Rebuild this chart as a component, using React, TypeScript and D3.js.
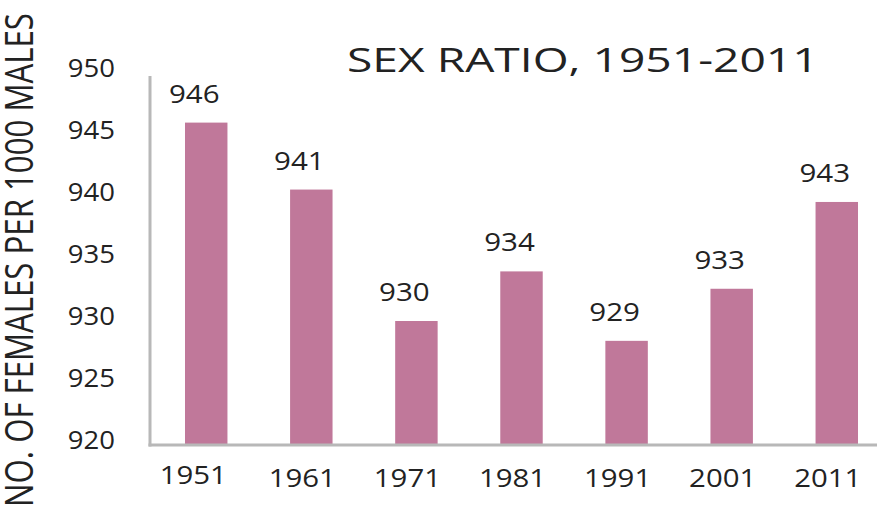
import React from 'react';
import { scaleBand, scaleLinear } from 'd3';

// census years, bar heights as drawn, and the numbers printed above the bars
const years = ['1951', '1961', '1971', '1981', '1991', '2001', '2011'];
const ratios = [946, 940.6, 930, 934, 928.4, 932.6, 939.6];
const valueLabels = ['946', '941', '930', '934', '929', '933', '943'];
const yTicks = [920, 925, 930, 935, 940, 945, 950];

const App = () => {
    const width = 877;
    const height = 519;
    const margin = { top: 73, left: 150, bottom: 445, right: 893 };
    const font = '"Open Sans", "DejaVu Sans", sans-serif';
    const textColor = '#222222';
    const axisColor = '#b8b8b8';

    const x = scaleBand<string>().domain(years).range([margin.left, margin.right]).paddingInner(0.596).paddingOuter(0.333);
    const y = scaleLinear().domain([920, 950]).range([margin.bottom, margin.top]);

    const bars = years.map((yr, i) => (
        <rect key={yr} x={x(yr)} y={y(ratios[i])} width={x.bandwidth()} height={y(920) - y(ratios[i])} fill="#c0789a" />
    ));

    const labels = years.map((yr, i) => {
        let cx = (x(yr) as number) + x.bandwidth() / 2 - 12;
        return (
            <text key={yr} transform={`translate(${cx},${y(ratios[i]) - 20}) scale(1.18,1)`} textAnchor="middle" fontSize={25} fill={textColor}>{valueLabels[i]}</text>
        );
    });

    const xLabels = years.map((yr, i) => {
        let cx = (x(yr) as number) + x.bandwidth() / 2 - (i == 0 ? 13 : 9);
        return (
            <text key={yr} transform={`translate(${cx},${i == 0 ? 484 : 487}) scale(1.13,1)`} textAnchor="middle" fontSize={26} fill={textColor}>{yr}</text>
        );
    });

    const yLabels = yTicks.map(t => (
        <text key={t} transform={`translate(115,${y(t) + 3.5}) scale(1.1,1)`} textAnchor="end" fontSize={25} fill={textColor}>{t}</text>
    ));

    return (
        <div style={{ position: 'absolute', left: 0, top: 0, width: width, height: height, background: '#ffffff' }}>
            <svg width={width} height={height} style={{ display: 'block', fontFamily: font }}>
                <rect x={0} y={0} width={width} height={height} fill="#ffffff" />
                <g>{bars}</g>
                <line x1={margin.left} x2={margin.left} y1={76} y2={y(920) + 1.5} stroke={axisColor} strokeWidth={3} />
                <line x1={margin.left - 1.5} x2={width} y1={y(920)} y2={y(920)} stroke={axisColor} strokeWidth={3} />
                <g>{labels}</g>
                <g>{xLabels}</g>
                <g>{yLabels}</g>
                <text transform="translate(347,72) scale(1.4,1)" fontSize={33} fill={textColor}>SEX RATIO, 1951-2011</text>
                <text transform="translate(33,260) scale(1.25,1) rotate(-90)" textAnchor="middle" fontSize={31.2} fill={textColor}>NO. OF FEMALES PER 1000 MALES</text>
            </svg>
        </div>
    );
};

export default App;
